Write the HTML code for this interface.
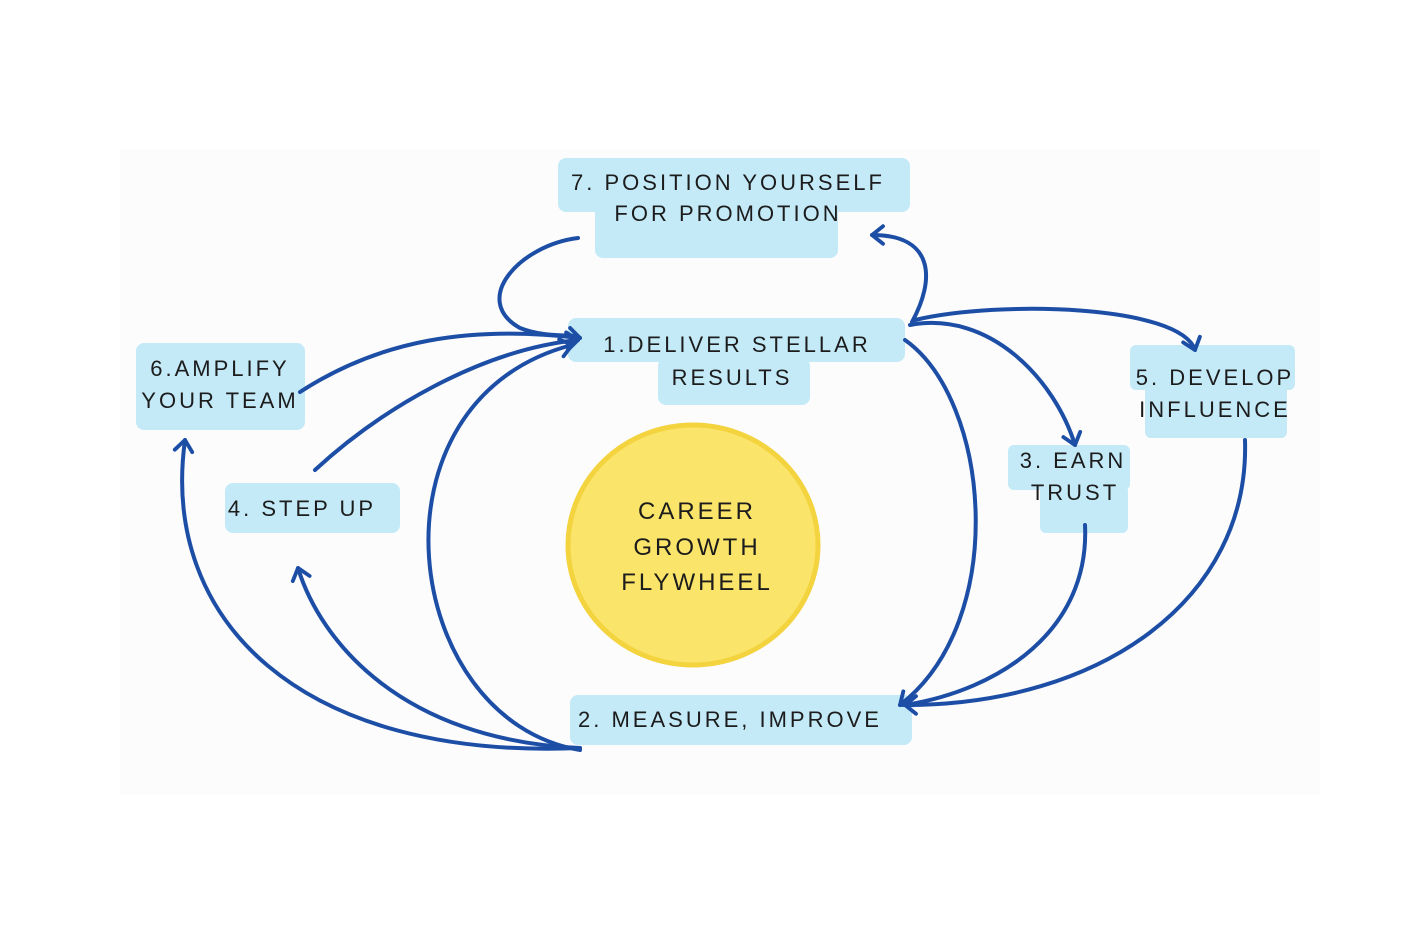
<!DOCTYPE html>
<html><head><meta charset="utf-8"><style>
html,body{margin:0;padding:0;background:#fff;}
svg{display:block}
text{font-family:"Liberation Sans",sans-serif;fill:#1c1c1c;letter-spacing:3px;text-anchor:middle;font-size:22px}
</style></head><body>
<svg width="1409" height="928" viewBox="0 0 1409 928" xmlns="http://www.w3.org/2000/svg">
<defs>
<marker id="v" viewBox="-12 -10 14 20" refX="0" refY="0" markerWidth="22" markerHeight="22" orient="auto" markerUnits="userSpaceOnUse">
<path d="M-10,-8 L0,0 L-10,8" fill="none" stroke="#1d4ea6" stroke-width="3.5" stroke-linecap="round" stroke-linejoin="round"/>
</marker>
</defs>
<rect x="120" y="150" width="1200" height="645" fill="#fcfcfc"/>
<g fill="#c4eaf8">
<rect x="558" y="158" width="352" height="54" rx="8"/>
<rect x="595" y="195" width="243" height="63" rx="8"/>
<rect x="568" y="318" width="337" height="44" rx="8"/>
<rect x="658" y="358" width="152" height="47" rx="8"/>
<rect x="136" y="343" width="169" height="87" rx="8"/>
<rect x="1130" y="345" width="165" height="45" rx="6"/>
<rect x="1145" y="385" width="142" height="53" rx="6"/>
<rect x="1008" y="445" width="122" height="45" rx="6"/>
<rect x="1040" y="485" width="88" height="48" rx="6"/>
<rect x="225" y="483" width="175" height="50" rx="8"/>
<rect x="570" y="695" width="342" height="50" rx="8"/>
</g>
<ellipse cx="693" cy="545" rx="125" ry="120" fill="#fbe46a" stroke="#f3d33e" stroke-width="5"/>
<g fill="none" stroke="#1d4ea6" stroke-width="4" stroke-linecap="round">
<path d="M578,238 C520,245 470,300 520,328 C540,336 560,335 575,336"/>
<path d="M912,322 C935,280 935,235 872,235" marker-end="url(#v)"/>
<path d="M300,392 C380,340 470,325 580,338" marker-end="url(#v)"/>
<path d="M315,470 C380,410 480,350 578,340" marker-end="url(#v)"/>
<path d="M580,750 C400,720 360,400 572,345" marker-end="url(#v)"/>
<path d="M905,340 C990,400 1010,620 900,705" marker-end="url(#v)"/>
<path d="M910,325 C990,310 1055,380 1075,445" marker-end="url(#v)"/>
<path d="M915,320 C1000,300 1180,305 1195,350" marker-end="url(#v)"/>
<path d="M1085,525 C1090,630 1000,690 905,705"/>
<path d="M1245,440 C1250,600 1100,705 905,705" marker-end="url(#v)"/>
<path d="M580,748 C300,760 160,620 185,440" marker-end="url(#v)"/>
<path d="M580,748 C400,740 320,640 298,568" marker-end="url(#v)"/>
</g>
<text x="728" y="190">7. POSITION YOURSELF</text>
<text x="728" y="221">FOR PROMOTION</text>
<text x="737" y="352">1.DELIVER STELLAR</text>
<text x="732" y="385">RESULTS</text>
<text x="220" y="376">6.AMPLIFY</text>
<text x="220" y="408">YOUR TEAM</text>
<text x="1215" y="385">5. DEVELOP</text>
<text x="1215" y="417">INFLUENCE</text>
<text x="1073" y="468">3. EARN</text>
<text x="1075" y="500">TRUST</text>
<text x="302" y="516">4. STEP UP</text>
<text x="730" y="727">2. MEASURE, IMPROVE</text>
<text x="697" y="519" style="font-size:24px">CAREER</text>
<text x="697" y="555" style="font-size:24px">GROWTH</text>
<text x="697" y="590" style="font-size:24px">FLYWHEEL</text>
</svg>
</body></html>
